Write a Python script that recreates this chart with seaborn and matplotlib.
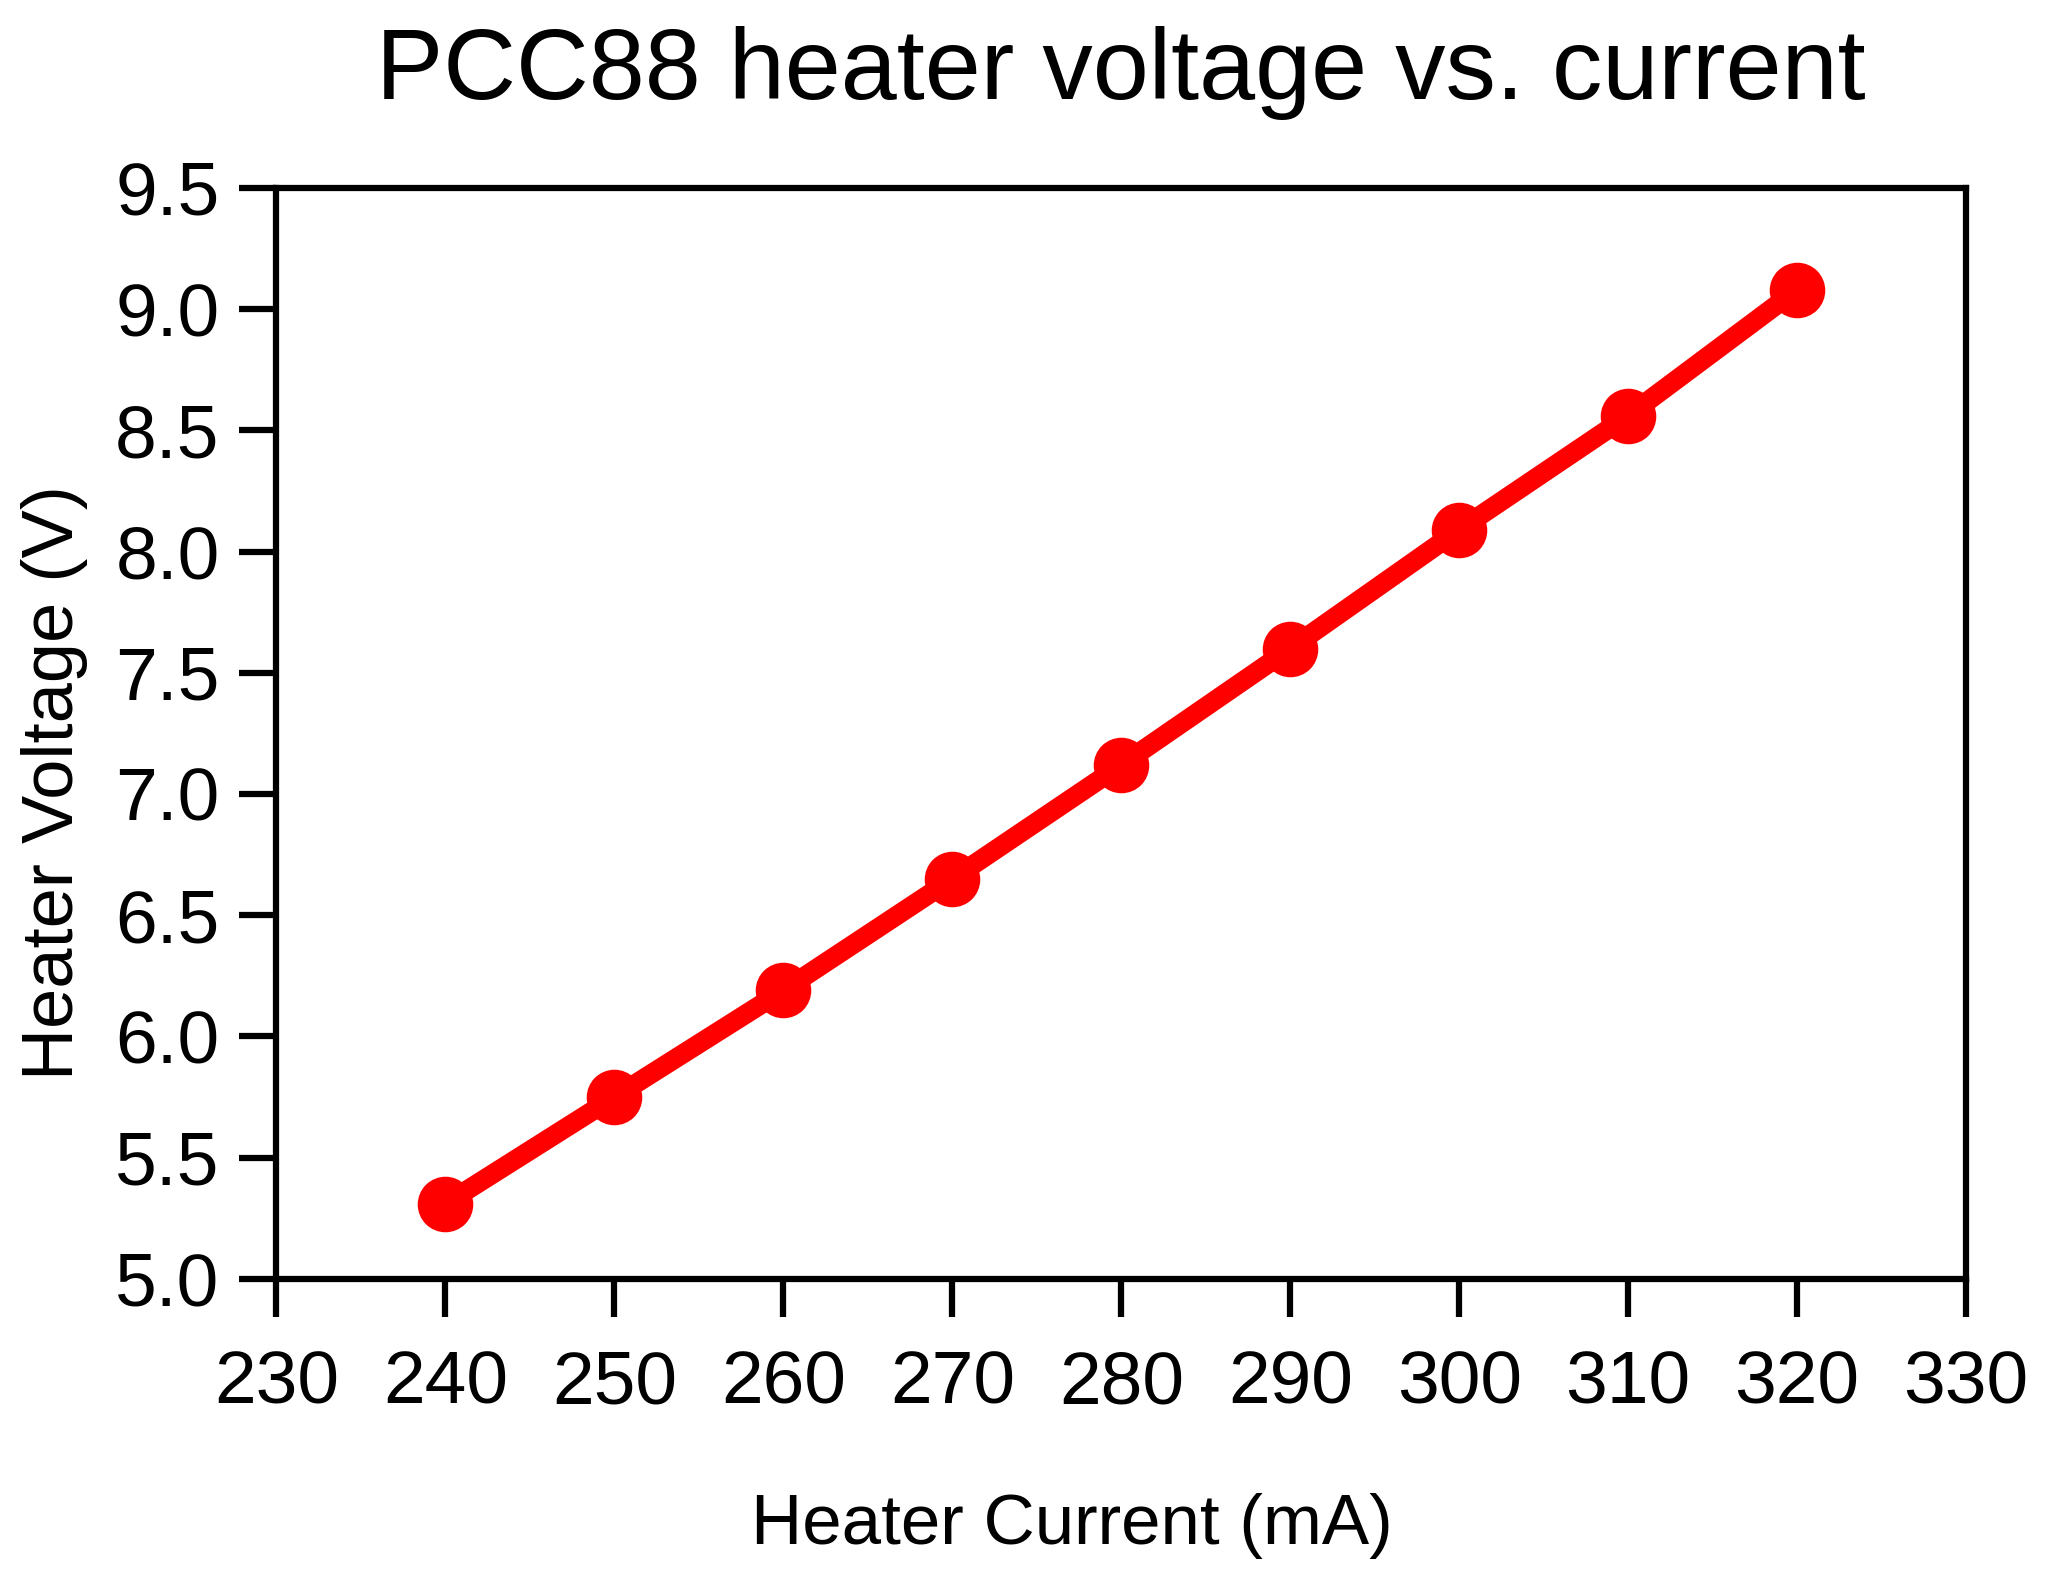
import numpy as np
import pandas as pd
import matplotlib
matplotlib.use("Agg")
import matplotlib.pyplot as plt
import seaborn as sns

current_ma = [240, 250, 260, 270, 280, 290, 300, 310, 320]
voltage_v = [5.31, 5.75, 6.19, 6.65, 7.12, 7.60, 8.09, 8.56, 9.08]

df = pd.DataFrame({"current": current_ma, "voltage": voltage_v})

sns.set_style("ticks")
plt.rcParams['font.family'] = ['Liberation Sans', 'DejaVu Sans']
plt.rcParams['text.color'] = 'black'
plt.rcParams['axes.labelcolor'] = 'black'
plt.rcParams['xtick.color'] = 'black'
plt.rcParams['ytick.color'] = 'black'

fig = plt.figure(figsize=(20.48, 15.78), dpi=100)
ax = fig.add_axes([0.135, 0.1895, 0.825, 0.6915])

sns.lineplot(data=df, x="current", y="voltage", ax=ax, color="#ff0000",
             linewidth=14, marker="o", markersize=40, markeredgewidth=0,
             solid_capstyle="round")

ax.set_xlim(230, 330)
ax.set_ylim(5.0, 9.5)
ax.set_xticks(np.arange(230, 331, 10))
ax.set_yticks(np.arange(5.0, 9.51, 0.5))
ax.set_yticklabels([f"{v:.1f}" for v in np.arange(5.0, 9.51, 0.5)])

for s in ax.spines.values():
    s.set_linewidth(4.5)
    s.set_color("black")
    s.set_visible(True)

ax.tick_params(axis="both", direction="out", length=27, width=4.5, labelsize=54, color="black")
ax.tick_params(axis="x", pad=24)
ax.tick_params(axis="y", pad=14)

ax.set_xlabel("Heater Current (mA)", fontsize=51)
ax.set_ylabel("Heater Voltage (V)", fontsize=52)
ax.xaxis.label.set_va("center")
ax.yaxis.label.set_va("center")
ax.xaxis.set_label_coords(0.471, -0.226)
ax.yaxis.set_label_coords(-0.1315, 0.455)
ax.set_title("PCC88 heater voltage vs. current", fontsize=72.5, pad=64)

fig.savefig("out.png", dpi=100, facecolor="white")
